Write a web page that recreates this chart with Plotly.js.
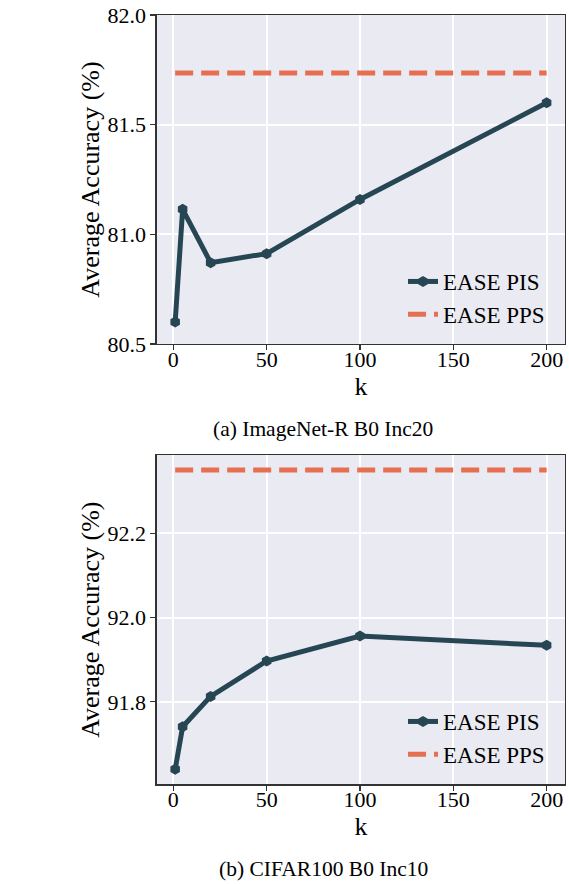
<!DOCTYPE html>
<html><head><meta charset="utf-8">
<script src="https://cdn.plot.ly/plotly-3.0.1.min.js"></script>
<style>html,body{margin:0;padding:0;background:#fff;}#chart{width:569px;height:884px;}</style>
</head><body><div id="chart"></div>
<script>
const kValues = [1, 5, 20, 50, 100, 200];
const ppsK = [1, 200];
const imagenetPIS = [80.60, 81.114, 80.871, 80.912, 81.159, 81.60];
const imagenetPPS = [81.735, 81.735];
const cifarPIS = [91.640, 91.741, 91.813, 91.897, 91.956, 91.934];
const cifarPPS = [92.350, 92.350];
const xTicks = [0, 50, 100, 150, 200];
const topYTicks = [80.5, 81.0, 81.5, 82.0];
const botYTicks = [91.8, 92.0, 92.2];
const seriesNames = ['EASE PIS', 'EASE PPS'];
const captions = ['(a) ImageNet-R B0 Inc20', '(b) CIFAR100 B0 Inc10'];

const W = 569, H = 884;
const FONT = 'Liberation Serif';
const lineColor = '#264653';
const dashColor = '#e76f51';
const xd = [156.6 / W, 565.2 / W];
const y1d = [(H - 344) / H, (H - 15) / H];
const y2d = [(H - 784.3) / H, (H - 455) / H];

const traces = [
  {x: kValues, y: imagenetPIS, xaxis: 'x', yaxis: 'y', name: seriesNames[0], mode: 'lines+markers',
   line: {color: lineColor, width: 5}, marker: {symbol: 'hexagon', size: 11, color: lineColor}, legend: 'legend'},
  {x: ppsK, y: imagenetPPS, xaxis: 'x', yaxis: 'y', name: seriesNames[1], mode: 'lines',
   line: {color: dashColor, width: 5, dash: '18px,8px'}, legend: 'legend'},
  {x: kValues, y: cifarPIS, xaxis: 'x2', yaxis: 'y2', name: seriesNames[0], mode: 'lines+markers',
   line: {color: lineColor, width: 5}, marker: {symbol: 'hexagon', size: 11, color: lineColor}, legend: 'legend2'},
  {x: ppsK, y: cifarPPS, xaxis: 'x2', yaxis: 'y2', name: seriesNames[1], mode: 'lines',
   line: {color: dashColor, width: 5, dash: '18px,8px'}, legend: 'legend2'}
];

const axCommon = {
  showgrid: true, gridcolor: '#ffffff', gridwidth: 2, zeroline: false,
  showline: true, linecolor: '#333333', linewidth: 1.2, mirror: true,
  ticks: 'outside', ticklen: 5, tickwidth: 1.2, tickcolor: '#333333',
  tickfont: {family: FONT, size: 22, color: '#000'}
};
const xCommon = Object.assign({}, axCommon, {range: [-8.95, 209.95], tickvals: xTicks, ticklabelstandoff: -10,
  title: {text: 'k', font: {family: FONT, size: 26, color: '#000'}, standoff: 0}});
const yTitle = {text: 'Average Accuracy (%)', font: {family: FONT, size: 26, color: '#000'}, standoff: 0};

const legendCommon = {
  bgcolor: 'rgba(0,0,0,0)', font: {family: FONT, size: 23, color: '#000'},
  xanchor: 'left', yanchor: 'middle', tracegroupgap: 0, itemwidth: 30
};

const layout = {
  width: W, height: H, margin: {l: 0, r: 0, t: 0, b: 0},
  font: {family: FONT, color: '#000'},
  paper_bgcolor: '#ffffff', plot_bgcolor: '#eaeaf2',
  xaxis: Object.assign({}, xCommon, {domain: xd, anchor: 'y'}),
  yaxis: Object.assign({}, axCommon, {domain: y1d, anchor: 'x', range: [80.5, 82.0], tickvals: topYTicks, tickformat: '.1f', title: yTitle}),
  xaxis2: Object.assign({}, xCommon, {domain: xd, anchor: 'y2'}),
  yaxis2: Object.assign({}, axCommon, {domain: y2d, anchor: 'x2', range: [91.6045, 92.3855], tickvals: botYTicks, tickformat: '.1f', title: yTitle}),
  legend: Object.assign({}, legendCommon, {x: 403 / W, y: (H - 298) / H}),
  legend2: Object.assign({}, legendCommon, {x: 403 / W, y: (H - 738) / H}),
  annotations: [
    {text: captions[0], xref: 'paper', yref: 'paper', x: 323 / W, y: (H - 429) / H, showarrow: false,
     xanchor: 'center', yanchor: 'middle', font: {family: FONT, size: 21.5, color: '#000'}},
    {text: captions[1], xref: 'paper', yref: 'paper', x: 323 / W, y: (H - 869) / H, showarrow: false,
     xanchor: 'center', yanchor: 'middle', font: {family: FONT, size: 21.5, color: '#000'}}
  ]
};

Plotly.newPlot('chart', traces, layout, {displayModeBar: false, staticPlot: true});
</script></body></html>
